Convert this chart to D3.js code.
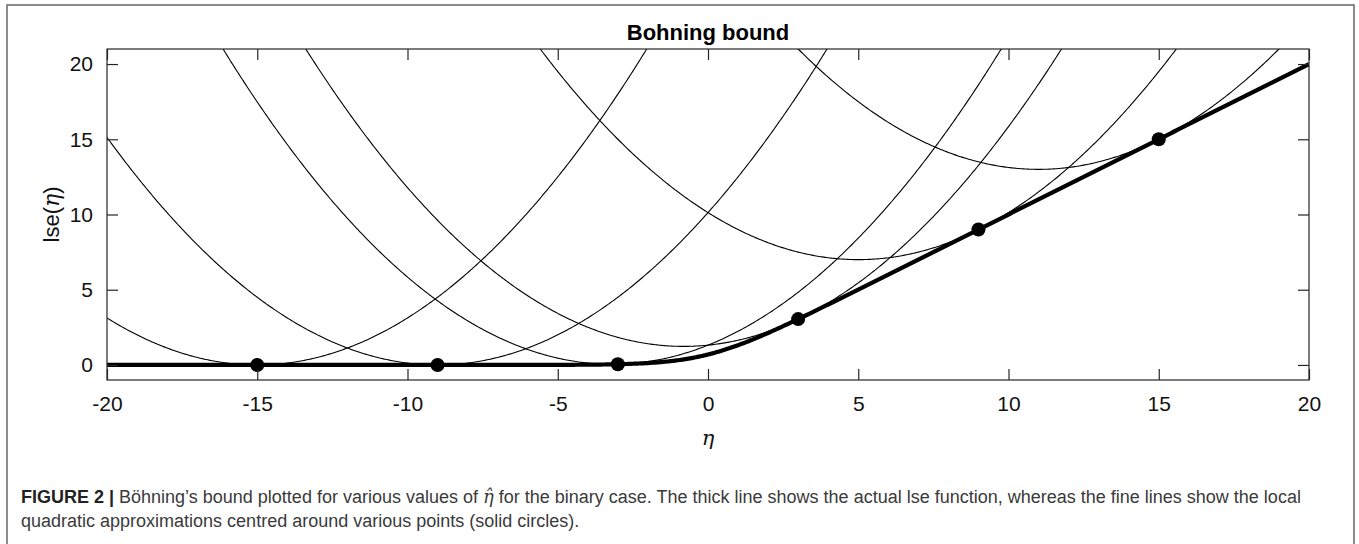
<!DOCTYPE html>
<html>
<head>
<meta charset="utf-8">
<script src="https://cdn.jsdelivr.net/npm/d3@7/dist/d3.min.js"></script>
<style>
  html, body { margin: 0; padding: 0; background: #fff; }
  svg { display: block; }
</style>
</head>
<body>
<svg id="fig" width="1359" height="544"></svg>
<script>
// Expansion points (eta-hat) of the local quadratic bounds
const centres = [-15, -9, -3, 3, 9, 15];
// Böhning's fixed curvature for the binary case: 1/2 * max sigma'(eta) = 1/8
const curvature = 1 / 8;
// Axis ticks
const xTicks = [-20, -15, -10, -5, 0, 5, 10, 15, 20];
const yTicks = [0, 5, 10, 15, 20];
const xDomain = [-20, 20];
const yDomain = [-1, 21];

// log-sum-exp for the binary case and its gradient
const lse = e => (e > 30 ? e : Math.log1p(Math.exp(e)));
const sigm = e => 1 / (1 + Math.exp(-e));

const svg = d3.select("#fig");

// outer figure frame
svg.append("rect")
  .attr("x", 7).attr("y", 5)
  .attr("width", 1347).attr("height", 560)
  .attr("fill", "none").attr("stroke", "#666").attr("stroke-width", 1.5);

const plot = { left: 107, right: 1309, top: 49, bottom: 380 };
const x = d3.scaleLinear().domain(xDomain).range([plot.left, plot.right]);
const y = d3.scaleLinear().domain(yDomain).range([plot.bottom, plot.top]);

svg.append("defs").append("clipPath").attr("id", "clip")
  .append("rect")
  .attr("x", plot.left).attr("y", plot.top)
  .attr("width", plot.right - plot.left).attr("height", plot.bottom - plot.top);

const g = svg.append("g").attr("clip-path", "url(#clip)");

const grid = d3.range(xDomain[0], xDomain[1] + 1e-9, 0.05);
const line = d3.line().x(d => x(d[0])).y(d => y(d[1]));

// fine lines: quadratic upper bounds touching lse at each centre
centres.forEach(c => {
  const f0 = lse(c), g0 = sigm(c);
  const pts = grid.map(e => [e, f0 + g0 * (e - c) + curvature * (e - c) * (e - c)]);
  g.append("path")
    .attr("d", line(pts))
    .attr("fill", "none").attr("stroke", "#000").attr("stroke-width", 1.1);
});

// thick line: the lse function itself
g.append("path")
  .attr("d", line(grid.map(e => [e, lse(e)])))
  .attr("fill", "none").attr("stroke", "#000").attr("stroke-width", 4.2);

// solid circles at the expansion points
g.selectAll("circle.pt").data(centres).enter().append("circle")
  .attr("class", "pt")
  .attr("cx", d => x(d)).attr("cy", d => y(lse(d)))
  .attr("r", 7).attr("fill", "#000");

// axes with inward ticks on all four sides
const tickLen = 11;
const axisColor = "#262626";
const axes = svg.append("g");

axes.append("rect")
  .attr("x", plot.left).attr("y", plot.top)
  .attr("width", plot.right - plot.left).attr("height", plot.bottom - plot.top)
  .attr("fill", "none").attr("stroke", axisColor).attr("stroke-width", 1.2);

const plainNum = d => String(d);
const bottomAxis = d3.axisBottom(x).tickValues(xTicks).tickSize(-tickLen).tickPadding(16)
  .tickFormat(plainNum);
const topAxis = d3.axisTop(x).tickValues(xTicks).tickSize(-tickLen).tickFormat("");
const leftAxis = d3.axisLeft(y).tickValues(yTicks).tickSize(-tickLen).tickPadding(14)
  .tickFormat(plainNum);
const rightAxis = d3.axisRight(y).tickValues(yTicks).tickSize(-tickLen).tickFormat("");

function styleAxis(sel) {
  sel.select(".domain").remove();
  sel.selectAll(".tick line").attr("stroke", axisColor).attr("stroke-width", 1.2);
  sel.selectAll(".tick text")
    .attr("fill", "#111")
    .style("font-family", "'Liberation Sans', Arial, sans-serif")
    .style("font-size", "21px");
}

axes.append("g").attr("transform", `translate(0,${plot.bottom})`).call(bottomAxis).call(styleAxis);
axes.append("g").attr("transform", `translate(0,${plot.top})`).call(topAxis).call(styleAxis);
axes.append("g").attr("transform", `translate(${plot.left},0)`).call(leftAxis).call(styleAxis);
axes.append("g").attr("transform", `translate(${plot.right},0)`).call(rightAxis).call(styleAxis);

// title
svg.append("text")
  .attr("x", (plot.left + plot.right) / 2).attr("y", 40)
  .attr("text-anchor", "middle")
  .style("font-family", "'Liberation Sans', Arial, sans-serif")
  .style("font-size", "22px").style("font-weight", "bold")
  .attr("fill", "#000")
  .text("Bohning bound");

// x-axis label
svg.append("text")
  .attr("x", (plot.left + plot.right) / 2).attr("y", 445)
  .attr("text-anchor", "middle")
  .style("font-family", "'DejaVu Serif', 'Liberation Serif', serif")
  .style("font-style", "italic").style("font-size", "21px")
  .attr("fill", "#111")
  .text("η");

// y-axis label
const yl = svg.append("text")
  .attr("transform", `translate(59,${(y(0) + y(20)) / 2}) rotate(-90)`)
  .attr("text-anchor", "middle")
  .style("font-family", "'Liberation Sans', Arial, sans-serif")
  .style("font-size", "22px")
  .attr("fill", "#111");
yl.append("tspan").text("lse(");
yl.append("tspan").style("font-family", "'DejaVu Serif', 'Liberation Serif', serif")
  .style("font-style", "italic").text("η");
yl.append("tspan").text(")");

// caption
const capFont = "'Liberation Sans', Arial, sans-serif";
const cap1 = svg.append("text")
  .attr("x", 21).attr("y", 503)
  .style("font-family", capFont).style("font-size", "18px")
  .attr("fill", "#3a3a3a");
cap1.append("tspan").style("font-weight", "bold").attr("fill", "#222").text("FIGURE 2 | ");
cap1.append("tspan").text("Böhning’s bound plotted for various values of ");
cap1.append("tspan").style("font-family", "'DejaVu Serif', serif").style("font-style", "italic")
  .text("η̂");
cap1.append("tspan").text(" for the binary case. The thick line shows the actual lse function, whereas the fine lines show the local");

svg.append("text")
  .attr("x", 21).attr("y", 527)
  .style("font-family", capFont).style("font-size", "18px")
  .attr("fill", "#3a3a3a")
  .text("quadratic approximations centred around various points (solid circles).");
</script>
</body>
</html>
